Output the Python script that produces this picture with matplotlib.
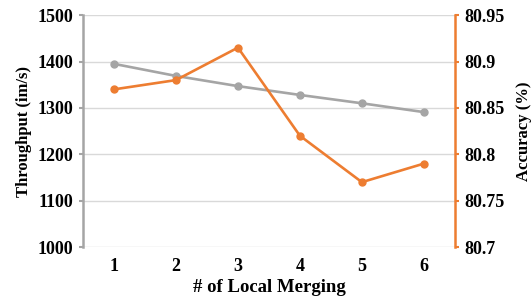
import matplotlib
matplotlib.use("Agg")
import matplotlib.pyplot as plt

# Data
merging = [1, 2, 3, 4, 5, 6]
throughput = [1395, 1369, 1347, 1328, 1310, 1291]
accuracy = [80.87, 80.88, 80.915, 80.82, 80.77, 80.79]

gray = "#A5A5A5"
orange = "#ED7D31"

plt.rcParams["font.family"] = ["Liberation Serif", "DejaVu Serif"]
plt.rcParams["font.weight"] = "bold"

fig = plt.figure(figsize=(5.32, 2.97), dpi=100)
ax1 = fig.add_axes([0.156, 0.168, 0.699, 0.781])
ax2 = ax1.twinx()

ax1.plot(merging, throughput, color=gray, lw=1.9, marker="o", ms=5, zorder=3)
ax2.plot(merging, accuracy, color=orange, lw=1.9, marker="o", ms=5, zorder=3)

ax1.set_xlim(0.5, 6.5)
ax1.set_ylim(1000, 1500)
ax1.set_yticks(range(1000, 1501, 100))
ax2.set_ylim(80.7, 80.95)
ax2.set_yticks([80.7, 80.75, 80.8, 80.85, 80.9, 80.95])
ax2.set_yticklabels(["80.7", "80.75", "80.8", "80.85", "80.9", "80.95"])
ax1.set_xticks(merging)

ax1.grid(axis="y", color="#D9D9D9", lw=1)
ax1.set_axisbelow(True)

for ax in (ax1, ax2):
    ax.spines["top"].set_visible(False)
    ax.spines["bottom"].set_visible(False)
ax1.spines["right"].set_visible(False)
ax2.spines["left"].set_visible(False)
ax1.spines["left"].set_color(gray)
ax1.spines["left"].set_linewidth(1.8)
ax2.spines["right"].set_color(orange)
ax2.spines["right"].set_linewidth(1.8)

ax1.tick_params(axis="y", color=gray, width=1.5, length=3, labelsize=13, pad=4)
ax1.tick_params(axis="x", length=0, labelsize=13, pad=8)
ax2.tick_params(axis="y", color=orange, width=1.5, length=3, labelsize=13, pad=4)

ax1.set_ylabel("Throughput (im/s)", fontsize=12, fontweight="bold", labelpad=4)
ax2.set_ylabel("Accuracy (%)", fontsize=12, fontweight="bold", rotation=90, labelpad=8)
ax1.set_xlabel("# of Local Merging", fontsize=13.5, fontweight="bold", labelpad=3)

fig.savefig("out.png", dpi=100)
